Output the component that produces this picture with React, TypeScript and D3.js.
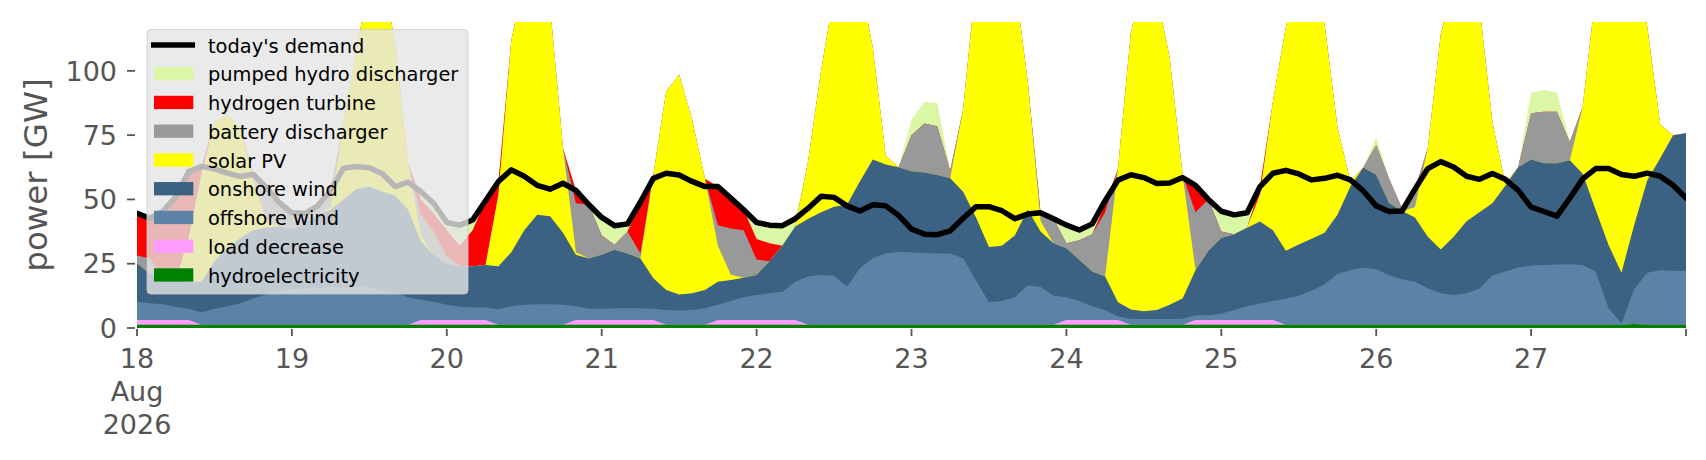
import React from 'react';
import * as d3 from 'd3';

// ---- data (GW), one value every 2 hours from 18 Aug 2026 00:00 to 28 Aug 00:00 ----
const START = Date.UTC(2026, 7, 18);
const hoursStep = 2;

const hydro = [
  1.3,1.3,1.3,1.3,1.3,1.3,1.3,1.3,1.3,1.3,
  1.3,1.3,1.3,1.3,1.3,1.3,1.3,1.3,1.3,1.3,
  1.3,1.3,1.3,1.3,1.3,1.3,1.3,1.3,1.3,1.3,
  1.3,1.3,1.3,1.3,1.3,1.3,1.3,1.3,1.3,1.3,
  1.3,1.3,1.3,1.3,1.3,1.3,1.3,1.3,1.3,1.3,
  1.3,1.3,1.3,1.3,1.3,1.3,1.3,1.3,1.3,1.3,
  1.3,1.3,1.3,1.3,1.3,1.3,1.3,1.3,1.3,1.3,
  1.3,1.3,1.3,1.3,1.3,1.3,1.3,1.3,1.3,1.3,
  1.3,1.3,1.3,1.3,1.3,1.3,1.3,1.3,1.3,1.3,
  1.3,1.3,1.3,1.3,1.3,1.3,1.3,1.3,1.3,1.3,
  1.3,1.3,1.3,1.3,1.3,1.3,1.3,1.3,1.3,1.3,
  1.3,1.3,1.3,1.3,1.3,1.3,1.6,1.3,1.3,1.3,1.3,
];
const loadDecrease = [
  1.8,1.8,1.8,1.8,1.8,0,0,0,0,0,
  0,0,0,0,0,0,0,0,0,0,
  0,0,1.8,1.8,1.8,1.8,1.8,1.8,0,0,
  0,0,0,0,1.8,1.8,1.8,1.8,1.8,1.8,
  1.8,0,0,0,0,1.8,1.8,1.8,1.8,1.8,
  1.8,1.8,0,0,0,0,0,0,0,0,
  0,0,0,0,0,0,0,0,0,0,
  0,0,1.8,1.8,1.8,1.8,1.8,0,0,0,
  0,0,1.8,1.8,1.8,1.8,1.8,1.8,1.8,0,
  0,0,0,0,0,0,0,0,0,0,
  0,0,0,0,0,0,0,0,0,0,
  0,0,0,0,0,0,0,0,0,0,0,
];
const offshoreWind = [
  7.1,6.5,6.1,5.2,4.4,4.7,6.2,7.2,8.3,10.2,
  11.7,13.2,13.9,14.1,14.3,14.7,14.7,14.7,14.5,13.2,
  12.7,10.7,7.9,7.1,5.9,5.2,4.9,4.9,6.0,7.2,
  7.7,7.9,7.9,7.7,5.4,4.4,4.4,4.6,4.6,4.6,
  4.4,5.7,5.5,5.7,6.4,5.9,7.4,8.9,9.7,10.4,
  11.0,14.9,18.7,19.3,19.0,14.7,21.9,25.8,27.7,28.4,
  28.1,27.9,27.7,27.7,25.8,17.2,8.7,9.2,10.7,15.2,
  14.7,11.2,8.9,7.4,5.4,3.9,1.4,2.2,2.2,2.2,
  2.2,2.3,1.9,1.9,2.4,3.9,5.4,6.4,7.4,10.1,
  11.2,13.2,15.7,19.7,21.2,22.2,21.5,19.2,17.7,16.7,
  14.2,12.2,11.5,12.2,14.1,19.1,20.7,22.2,22.9,23.2,
  23.4,23.5,23.2,20.7,6.4,0.5,13.7,20.2,21.2,21.0,20.9,
];
const onshoreWind = [
  15,11.4,10.8,10.2,10.5,12,18.5,22.5,25.4,26.5,
  26,25,23.3,25.1,28.4,30,34,38,39.2,38.5,
  37.5,34,22.6,18.2,16,15.7,16,16.5,16.7,21,
  29,34.8,34.3,28,20,19.5,21,22.7,21.3,19.3,
  11.8,7.8,6.2,6.5,7.1,9,8.2,7.5,7.8,12.5,
  17.9,21.5,22.5,24.4,26.9,31.9,33.8,38.4,34.6,32.8,
  31.6,31.3,30.5,29.2,25.9,24.5,21.5,21.5,24,29.5,
  21.5,20.5,19,16,13.5,13,5.5,3.7,3,3.5,
  5.5,7.9,17.5,25,29.5,29.5,30.5,31.9,27.5,18.6,
  20,20.2,20,23,32.5,38.9,36.8,28,26.5,25,
  20,17,22.7,28,29.6,28.1,33.3,39,41.3,39.6,
  39.4,40.4,35.5,24,24.6,19.7,25,36,43.5,52.7,53.5,
];
const solarPV = [
  0,0,0,0,17,42,54,52,43,20,
  3,0,0,0,0,1,30,54,80,87,
  58.5,18,2.4,0,0,0,0,0,27.7,82.5,
  97,96,81.5,33,1,0,0,0,0,0,
  40.2,77.2,85.5,67.5,43.2,14,2,0,0,0,
  0,0,22.5,55,82.8,92.1,78,43.5,3.4,0,
  0,0,0,0,32,92,118.5,118,99,50,
  4,0,0,0,0,0,52,107.8,128.5,123,
  96,48,0,0,0,0,0,10.6,50,87,
  102.5,105.3,81,34,2,0,0,0,0,4,
  34.5,83.5,99.5,98.5,80,31.5,0.7,0,0,0,
  0,0,26,84,112.7,128.5,100,59.5,13,0,0,
];
const batteryDischarger = [
  3,6,0,0,0,0,0,0,0,1.8,
  12.8,9.4,6.3,4,3.5,6.6,0,0,0,0,
  0,0,8,9,3,0,0,0,0,0,
  0,0,0,0,19,21,7.5,2,8.5,2,
  0,0,0,0,0,8,18,18.5,6,0,
  0,0,0,0,0,0,0,0,0,0,
  14,19,19,3,0,0,0,0,0,0,
  3.3,9.5,2,7.6,14.5,25,0,0,0,0,
  0,0,22.5,20,2.5,0,0,0,0,0,
  0,0,0,0,0,0,11.5,9.5,1,7,
  0,0,0,0,0,0,0,0,18,20,
  20,7,0,0,0,0,0,0,0,0,0,
];
const hydrogenTurbine = [
  16.4,15.7,25.3,32.5,25.8,2.8,0,0,0,0,
  0,0,0,0,0,0,0,0,0,0,
  0,0,6,7,10,8,14,25,5.3,0,
  0,0,0,0,5,0,0,0,0,20,
  0,0,0,0,0,15,12,8,8,7,
  0,0,0,0,0,0,0,0,0,0,
  0,0,0,0,0,0,0,0,0,0,
  0,0,0,0,0,3,0,0,0,0,
  0,0,10.5,0,0,0,0,3,0,0,
  0,0,0,0,0,0,0,0,0,0,
  0,0,0,0,0,0,0,0,0,0,
  0,0,0,0,0,0,0,0,0,0,0,
];
const pumpedHydro = [
  0,0,0,0,0,0,0,0,0,0,
  0,0,0,0,0,0,0,0,0,0,
  0,0,3,4,3,8,4,0,0,0,
  0,0,0,0,0,0,7,7.5,3.2,0,
  0,0,0,0,0,0,0,0,6,7,
  7.8,3,0,0,0,0,0,0,0,0,
  6,8.5,9,0,0,0,0,0,0,0,
  0,0,7,4,4,1.5,0,0,0,0,
  0,0,0,0,7.9,7.5,6,0,0,0,
  0,0,0,0,0,0,3,0,0,0,
  0,0,0,0,0,0,0,0,8,8.5,
  7.5,0.5,0,0,0,0,0,0,0,0,0,
];
const demand = [
  44.6,42.7,45.3,51,60.8,62.8,61.9,60.2,58.9,59.8,
  54.8,48.9,44.8,44.5,47.5,53.6,62.1,62.8,62.3,60,
  55,56.7,53,48.4,41,40,42,49.5,57,61.5,
  59,55.5,54,56.3,53.5,48,43,39.8,40.5,49,
  58.2,60.2,59.5,57,55,55,50.5,46,41,40,
  39.8,42.5,46.6,51.2,50.8,47.5,45.5,47.9,47.5,43.8,
  38.5,36.5,36.3,37.8,42.7,47.2,47.2,45.6,42.5,44.3,
  44.8,42.5,40,38.1,40.5,49.5,57.5,59.6,58.5,56.2,
  56.4,58.5,55.5,50,45.4,44,44.8,55,60.2,61.3,
  59.9,57.6,58.2,59.4,57.6,53.3,47.5,45.3,45.5,54,
  62,64.7,62.6,59,57.8,60.1,57.8,53.5,47,45.3,
  43.5,50.5,58,62,62,59.7,59,60.2,59,55.5,50.5,
];

const seriesNames = [
  'hydroelectricity', 'load decrease', 'offshore wind', 'onshore wind',
  'solar PV', 'battery discharger', 'hydrogen turbine', 'pumped hydro discharger',
];
const seriesColors = ['#008000', '#ff9cff', '#5b83a5', '#3b6183', '#ffff00', '#999999', '#ff0000', '#daf7a6'];
const seriesValues = [hydro, loadDecrease, offshoreWind, onshoreWind, solarPV, batteryDischarger, hydrogenTurbine, pumpedHydro];
const yTicks = [0, 25, 50, 75, 100];
const yMax = 119;

export default function App() {
  const W = 1706, H = 460;
  const x0 = 137, x1 = 1686, yB = 328, yT = 22;
  const n = demand.length;
  const dates = d3.range(n).map(i => new Date(START + i * hoursStep * 3600e3));
  const x = d3.scaleUtc().domain([dates[0], dates[n - 1]]).range([x0, x1]);
  const y = d3.scaleLinear().domain([0, yMax]).range([yB, yT]);

  const rows = dates.map((d, i) => {
    const r: any = { date: d };
    seriesNames.forEach((s, k) => { r[s] = seriesValues[k][i]; });
    return r;
  });
  const stacked = d3.stack().keys(seriesNames)(rows);

  // paint from the top layer downwards, each filled from 0 to its cumulative top (no seams)
  const areaPaths = stacked.map((layer, k) => {
    const a = d3.area<any>()
      .x((_, i) => x(dates[i]))
      .y0(() => y(0))
      .y1(p => y(p[1]));
    return { key: seriesNames[k], color: seriesColors[k], d: a(layer as any) as string };
  }).reverse();

  const line = d3.line<number>().x((_, i) => x(dates[i])).y(v => y(v));
  const dayTicks = x.ticks(d3.utcDay.every(1) as any);

  const legendItems = [
    { name: "today's demand", color: '#000', line: true },
    ...seriesNames.map((s, k) => ({ name: s, color: seriesColors[k], line: false })).reverse(),
  ];

  const font = 'DejaVu Sans, sans-serif';
  const grey = '#555555';

  return (
    <svg width={W} height={H} style={{ position: 'absolute', left: 0, top: 0, background: '#fff' }}
      fontFamily={font}>
      <defs>
        <clipPath id="plotclip">
          <rect x={x0} y={yT} width={x1 - x0} height={yB - yT} />
        </clipPath>
      </defs>
      <rect x={0} y={0} width={W} height={H} fill="#fff" />
      <g clipPath="url(#plotclip)">
        {areaPaths.map(p => <path key={p.key} d={p.d} fill={p.color} />)}
        <path d={line(demand) as string} fill="none" stroke="#000" strokeWidth={5.5}
          strokeLinejoin="round" strokeLinecap="round" />
      </g>
      {/* y axis */}
      {yTicks.map(t => (
        <g key={t}>
          <line x1={x0 - 10} x2={x0 - 2} y1={y(t)} y2={y(t)} stroke={grey} strokeWidth={1.8} />
          <text x={117} y={y(t) + 9.7} textAnchor="end" fontSize={27} fill={grey}>{t}</text>
        </g>
      ))}
      <text transform={`translate(47,175) rotate(-90)`} textAnchor="middle" fontSize={32.5} fill={grey}>power [GW]</text>
      {/* x axis */}
      {dayTicks.map((d, i) => {
        const px = x(d);
        const day = d.getUTCDate();
        const last = i === dayTicks.length - 1;
        return (
          <g key={i}>
            <line x1={px} x2={px} y1={yB + 1} y2={yB + 8} stroke={grey} strokeWidth={1.8} />
            {!last && <text x={px} y={368} textAnchor="middle" fontSize={27} fill={grey}>{day}</text>}
            {i === 0 && <text x={px} y={401} textAnchor="middle" fontSize={27} fill={grey}>{d3.utcFormat('%b')(d)}</text>}
            {i === 0 && <text x={px} y={434} textAnchor="middle" fontSize={27} fill={grey}>{d3.utcFormat('%Y')(d)}</text>}
          </g>
        );
      })}
      {/* legend */}
      <g>
        <rect x={147} y={29.5} width={321} height={264.5} rx={4} fill="#e5e5e5" fillOpacity={0.8}
          stroke="#cccccc" strokeOpacity={0.8} strokeWidth={1} />
        {legendItems.map((it, k) => {
          const cy = 45 + 28.75 * k;
          return (
            <g key={it.name}>
              {it.line
                ? <line x1={151} x2={195} y1={cy} y2={cy} stroke="#000" strokeWidth={5.3} />
                : <rect x={154} y={cy - 6.7} width={39.3} height={13.3} fill={it.color} />}
              <text x={208} y={cy + 7.6} fontSize={19.4} fill="#000">{it.name}</text>
            </g>
          );
        })}
      </g>
    </svg>
  );
}
